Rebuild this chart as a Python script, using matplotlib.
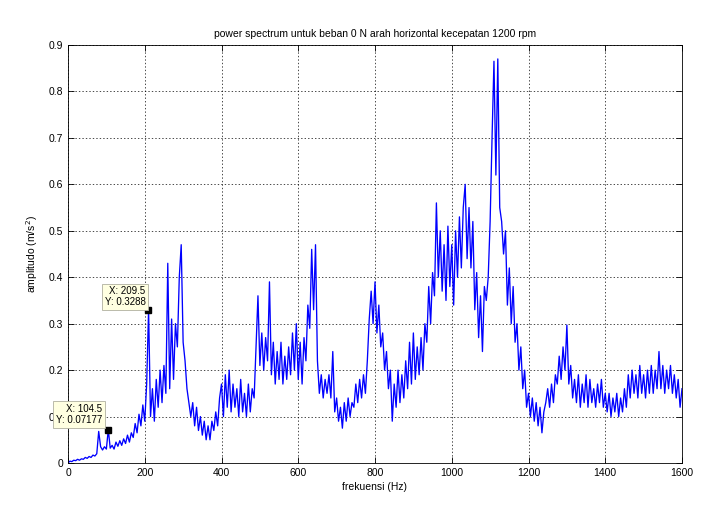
import numpy as np
import matplotlib
matplotlib.use("Agg")
import matplotlib.pyplot as plt

plt.rcParams["font.family"] = ["Liberation Sans", "DejaVu Sans"]

# amplitude every 5 Hz, one list per 200 Hz band
amp_0_200 = [0.0, 0.004, 0.003, 0.006, 0.005, 0.008, 0.006, 0.009, 0.008, 0.012,
             0.010, 0.014, 0.012, 0.017, 0.015, 0.020, 0.068, 0.035, 0.028, 0.035,
             0.030, 0.072, 0.032, 0.038, 0.030, 0.045, 0.036, 0.048, 0.038, 0.052,
             0.042, 0.060, 0.045, 0.065, 0.055, 0.085, 0.065, 0.105, 0.080, 0.125]
amp_200_400 = [0.09, 0.17, 0.33, 0.10, 0.16, 0.09, 0.18, 0.12, 0.20, 0.13,
               0.21, 0.15, 0.43, 0.16, 0.31, 0.18, 0.30, 0.25, 0.40, 0.47,
               0.26, 0.22, 0.16, 0.13, 0.10, 0.13, 0.08, 0.12, 0.07, 0.10,
               0.06, 0.09, 0.05, 0.08, 0.05, 0.09, 0.07, 0.11, 0.08, 0.14]
amp_400_600 = [0.17, 0.10, 0.19, 0.12, 0.20, 0.11, 0.17, 0.12, 0.16, 0.10,
               0.18, 0.11, 0.15, 0.10, 0.17, 0.11, 0.16, 0.14, 0.25, 0.36,
               0.21, 0.28, 0.20, 0.27, 0.22, 0.39, 0.19, 0.26, 0.17, 0.24,
               0.18, 0.26, 0.17, 0.23, 0.18, 0.25, 0.19, 0.28, 0.20, 0.30]
amp_600_800 = [0.18, 0.26, 0.17, 0.27, 0.22, 0.34, 0.29, 0.46, 0.33, 0.47,
               0.22, 0.15, 0.19, 0.14, 0.18, 0.15, 0.19, 0.14, 0.24, 0.11,
               0.14, 0.09, 0.12, 0.075, 0.13, 0.09, 0.14, 0.10, 0.13, 0.12,
               0.17, 0.13, 0.18, 0.14, 0.19, 0.15, 0.22, 0.31, 0.37, 0.30]
amp_800_1000 = [0.39, 0.28, 0.34, 0.25, 0.28, 0.20, 0.24, 0.16, 0.20, 0.09,
                0.17, 0.12, 0.20, 0.13, 0.19, 0.14, 0.22, 0.16, 0.26, 0.17,
                0.28, 0.18, 0.25, 0.19, 0.27, 0.20, 0.30, 0.26, 0.38, 0.30,
                0.41, 0.36, 0.56, 0.40, 0.50, 0.37, 0.47, 0.35, 0.51, 0.38]
amp_1000_1200 = [0.47, 0.34, 0.50, 0.40, 0.53, 0.42, 0.55, 0.60, 0.44, 0.55,
                 0.42, 0.52, 0.33, 0.41, 0.27, 0.36, 0.24, 0.38, 0.35, 0.40,
                 0.52, 0.70, 0.865, 0.62, 0.87, 0.55, 0.52, 0.45, 0.50, 0.34,
                 0.42, 0.30, 0.38, 0.26, 0.30, 0.20, 0.25, 0.16, 0.20, 0.12]
amp_1200_1400 = [0.15, 0.10, 0.14, 0.09, 0.13, 0.08, 0.12, 0.065, 0.11, 0.13,
                 0.16, 0.12, 0.17, 0.13, 0.19, 0.17, 0.23, 0.18, 0.25, 0.20,
                 0.297, 0.17, 0.21, 0.14, 0.18, 0.13, 0.19, 0.12, 0.17, 0.13,
                 0.19, 0.12, 0.18, 0.13, 0.16, 0.12, 0.17, 0.13, 0.18, 0.12]
amp_1400_1600 = [0.15, 0.11, 0.15, 0.10, 0.14, 0.11, 0.15, 0.10, 0.14, 0.11,
                 0.16, 0.12, 0.19, 0.14, 0.20, 0.15, 0.19, 0.14, 0.21, 0.15,
                 0.19, 0.14, 0.20, 0.15, 0.21, 0.15, 0.20, 0.16, 0.24, 0.16,
                 0.21, 0.15, 0.20, 0.16, 0.21, 0.15, 0.19, 0.14, 0.18, 0.12,
                 0.16]

amplitude = (amp_0_200 + amp_200_400 + amp_400_600 + amp_600_800 +
             amp_800_1000 + amp_1000_1200 + amp_1200_1400 + amp_1400_1600)
freq = np.arange(len(amplitude)) * 5.0

# data cursor tips
tip_x = [104.5, 209.5]
tip_y = [0.07177, 0.3288]
tip_offset = [(-6, 5), (-3, 3)]

fig = plt.figure(figsize=(7.2, 5.12), dpi=100)
ax = fig.add_axes([68 / 720, 49 / 512, 614 / 720, 418 / 512])

ax.plot(freq, amplitude, color="#0000ff", lw=0.95)

ax.set_xlim(0, 1600)
ax.set_ylim(0, 0.9)
ax.set_xticks(np.arange(0, 1601, 200))
ax.set_yticks(np.round(np.arange(0, 0.91, 0.1), 1))
ax.set_xticklabels([f"{int(v)}" for v in ax.get_xticks()])
ax.set_yticklabels(["0"] + [f"{v:.1f}" for v in ax.get_yticks()[1:]])
ax.tick_params(direction="in", length=4, width=0.6, labelsize=7.5,
               top=True, right=True, colors="black")
ax.grid(True, color="black", ls=(0, (2, 3)), lw=0.5)
for s in ax.spines.values():
    s.set_linewidth(0.6)

ax.set_title("power spectrum untuk beban 0 N arah horizontal kecepatan 1200 rpm",
             fontsize=7.5, pad=6)
ax.set_xlabel("frekuensi (Hz)", fontsize=7.5, labelpad=3)
ax.set_ylabel("amplitudo (m/s$^2$)", fontsize=7.5, labelpad=6)

for x, y, off in zip(tip_x, tip_y, tip_offset):
    ax.plot([x], [y], marker="s", ms=5, color="black", ls="none", zorder=5)
    ax.annotate(f"X: {x}\nY: {y}", xy=(x, y), xytext=off,
                textcoords="offset pixels", ha="right", va="bottom",
                fontsize=7, linespacing=1.1, annotation_clip=False, zorder=6,
                bbox=dict(boxstyle="square,pad=0.3", fc="#ffffe1",
                          ec="#b0b0a0", lw=0.6))

fig.savefig("out.png", dpi=100)
